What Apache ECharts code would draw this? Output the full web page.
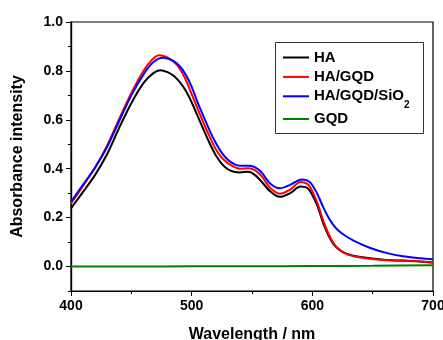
<!DOCTYPE html>
<html><head><meta charset="utf-8">
<script src="https://cdn.jsdelivr.net/npm/echarts@6/dist/echarts.min.js"></script>
<style>html,body{margin:0;padding:0;background:#fff}#c{width:443px;height:340px}</style>
</head><body><div id="c"></div>
<script>
const seriesNames = ['HA', 'HA/GQD', 'HA/GQD/SiO2', 'GQD'];
const colors = ['#000000', '#ff0000', '#0000ff', '#008000'];
const yTickLabels = [0.0, 0.2, 0.4, 0.6, 0.8, 1.0];
const xTickLabels = [400, 500, 600, 700];

const haX = [400,410,420,430,440,450,460,468,474,480,485,490,495,500,505,510,515,520,525,530,535,540,546,550,556,565,573,582,590,597,604,609,615,620,628,640,659,687,700];
const haY = [0.238,0.305,0.375,0.46,0.568,0.668,0.75,0.79,0.803,0.795,0.78,0.755,0.72,0.672,0.615,0.558,0.503,0.455,0.42,0.398,0.388,0.385,0.388,0.383,0.358,0.308,0.285,0.301,0.327,0.316,0.25,0.178,0.112,0.078,0.053,0.039,0.028,0.022,0.017];

const hagX = [400,410,420,430,440,450,460,467,473,480,485,490,495,500,505,510,515,520,525,530,535,540,547,552,558,565,573,582,590,597,604,609,615,620,628,640,659,687,700];
const hagY = [0.258,0.33,0.405,0.495,0.605,0.71,0.80,0.845,0.864,0.855,0.838,0.81,0.765,0.705,0.645,0.585,0.53,0.48,0.445,0.423,0.408,0.400,0.402,0.395,0.37,0.322,0.298,0.316,0.346,0.333,0.262,0.188,0.118,0.08,0.052,0.037,0.027,0.022,0.016];

const hagsX = [400,410,420,430,440,450,460,468,476,485,490,495,500,505,510,515,520,525,530,535,540,548,553,558,565,573,582,591,598,604,609,614,618,622,627,635,648,662,675,690,700];
const hagsY = [0.265,0.335,0.405,0.49,0.595,0.70,0.785,0.835,0.854,0.84,0.82,0.785,0.735,0.67,0.612,0.555,0.505,0.465,0.437,0.42,0.412,0.412,0.405,0.385,0.34,0.32,0.335,0.356,0.345,0.298,0.243,0.195,0.166,0.145,0.127,0.104,0.076,0.055,0.042,0.034,0.03];

const gqdX = [400,450,500,550,600,650,700];
const gqdY = [0.000,0.000,0.001,0.001,0.002,0.003,0.005];

const zip = (xs, ys) => xs.map((x, i) => [x, ys[i]]);
const allData = [zip(haX, haY), zip(hagX, hagY), zip(hagsX, hagsY), zip(gqdX, gqdY)];

const FONT = '"Liberation Sans", Arial, sans-serif';
const chart = echarts.init(document.getElementById('c'), null, {renderer: 'canvas'});

const legendText = {
  fontFamily: FONT, fontWeight: 'bold', fontSize: 15, color: '#000', lineHeight: 15,
  rich: {
    sub: {fontFamily: FONT, fontWeight: 'bold', fontSize: 10, lineHeight: 10, color: '#000', padding: [9, 0, -9, 0]}
  }
};
const fmtLegend = n => n === 'HA/GQD/SiO2' ? 'HA/GQD/SiO{sub|2}' : n;

chart.setOption({
  animation: false,
  backgroundColor: '#fff',
  grid: {left: 71, right: 10, top: 22, bottom: 49, show: true, borderColor: '#000', borderWidth: 1.2,
    containLabel: false, outerBoundsMode: 'none'},
  graphic: [{
    type: 'rect', left: 273, top: 40, z: 10,
    shape: {width: 148, height: 91},
    style: {fill: 'none', stroke: '#333', lineWidth: 1}
  }],
  legend: [
    {data: seriesNames.slice(0, 3), orient: 'vertical', left: 283, top: 50, itemGap: 4.4, itemWidth: 26, itemHeight: 2,
     icon: 'rect', selectedMode: false, padding: 0, textStyle: legendText, formatter: fmtLegend},
    {data: seriesNames.slice(3), orient: 'vertical', left: 283, top: 111.5, itemWidth: 26, itemHeight: 2,
     icon: 'rect', selectedMode: false, padding: 0, textStyle: legendText, formatter: fmtLegend}
  ],
  xAxis: {
    type: 'value', min: 400, max: 700, interval: 100,
    name: 'Wavelength / nm', nameLocation: 'middle', nameGap: 36,
    nameTextStyle: {fontFamily: FONT, fontWeight: 'bold', fontSize: 16, color: '#000'},
    axisLine: {onZero: false, lineStyle: {color: '#000', width: 1.2}},
    axisTick: {show: true, length: 5, lineStyle: {color: '#000', width: 1}},
    minorTick: {show: true, splitNumber: 2, length: 3, lineStyle: {color: '#000', width: 1}},
    axisLabel: {fontFamily: FONT, fontWeight: 'bold', fontSize: 14, color: '#000', margin: 8,
      customValues: xTickLabels},
    splitLine: {show: false}
  },
  yAxis: [
    {
      type: 'value', min: -0.1, max: 1.0, interval: 0.1,
      axisLine: {show: true, lineStyle: {color: '#000', width: 1.2}},
      axisTick: {show: true, length: 3, lineStyle: {color: '#000', width: 1}},
      axisLabel: {show: false},
      splitLine: {show: false}
    },
    {
      type: 'value', min: -0.1, max: 1.0, position: 'left',
      name: 'Absorbance intensity', nameLocation: 'middle', nameGap: 45, nameRotate: 90,
      nameTextStyle: {fontFamily: FONT, fontWeight: 'bold', fontSize: 16, color: '#000'},
      axisLine: {show: true, lineStyle: {color: '#000', width: 1.2}},
      axisTick: {show: true, length: 5, customValues: yTickLabels, lineStyle: {color: '#000', width: 1}},
      axisLabel: {fontFamily: FONT, fontWeight: 'bold', fontSize: 14, color: '#000', margin: 8,
        customValues: yTickLabels, formatter: v => v.toFixed(1)},
      splitLine: {show: false}
    }
  ],
  series: seriesNames.map((n, i) => ({
    name: n, type: 'line', data: allData[i], showSymbol: false, smooth: 0.3,
    yAxisIndex: 0, color: colors[i], lineStyle: {color: colors[i], width: 2}
  }))
});
</script></body></html>
